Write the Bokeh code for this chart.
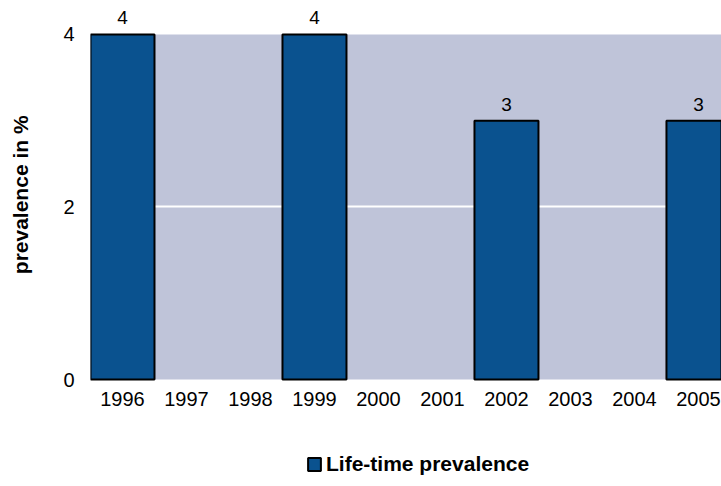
from bokeh.plotting import figure
from bokeh.models import (Range1d, FixedTicker, ColumnDataSource, LabelSet,
                          Legend, LegendItem, BoxAnnotation)
from bokeh.core.properties import value
from bokeh.embed import file_html
from bokeh.resources import INLINE

# ---- data ----
years = [1996, 1997, 1998, 1999, 2000, 2001, 2002, 2003, 2004, 2005]
prevalence = [4, None, None, 4, None, None, 3, None, None, 3]
y_ticks = [0, 2, 4]
series_name = "Life-time prevalence"
y_title = "prevalence in %"

bar_years = [y for y, v in zip(years, prevalence) if v is not None]
bar_vals = [v for v in prevalence if v is not None]
src = ColumnDataSource(dict(x=bar_years, top=bar_vals,
                            lbl=[str(v) for v in bar_vals]))
cat_src = ColumnDataSource(dict(x=years, y=[0] * len(years),
                                lbl=[str(y) for y in years]))

FONT = "Liberation Sans"
BAR = "#0A528F"
BG = "#BFC4D9"

p = figure(width=721, height=482, output_backend="svg", toolbar_location=None,
           x_range=Range1d(1995.5, 2005.36), y_range=Range1d(-1.194, 4.394),
           min_border_left=90, min_border_right=0, min_border_top=0,
           min_border_bottom=0)
p.outline_line_color = None
p.background_fill_color = "white"
p.border_fill_color = "white"

# plotting-area background (0..4 band)
p.add_layout(BoxAnnotation(bottom=0, top=max(y_ticks), fill_color=BG,
                           fill_alpha=1, line_color=None, level="image"))

bars = p.vbar(x="x", top="top", bottom=0, width=1.0, source=src,
              fill_color=BAR, line_color="black", line_width=2)

# value labels above bars
p.add_layout(LabelSet(x="x", y="top", text="lbl", source=src,
                      text_align="center", text_baseline="bottom",
                      y_offset=10, text_font=value(FONT), text_font_size="19px",
                      text_color="black"))

# category (year) labels under the plotting area
p.add_layout(LabelSet(x="x", y="y", text="lbl", source=cat_src,
                      text_align="center", text_baseline="top",
                      y_offset=-12, text_font=value(FONT), text_font_size="20px",
                      text_color="black"))

p.xaxis.visible = False

p.yaxis.ticker = FixedTicker(ticks=y_ticks)
p.yaxis.axis_line_color = None
p.yaxis.major_tick_line_color = None
p.yaxis.minor_tick_line_color = None
p.yaxis.major_label_standoff = 10
p.yaxis.major_label_text_font = FONT
p.yaxis.major_label_text_font_size = "20px"
p.yaxis.major_label_text_color = "black"
# leading no-break spaces lift the centred title alongside the 0..4 band
p.yaxis.axis_label = "\u00a0" * 16 + y_title
p.yaxis.axis_label_text_font = FONT
p.yaxis.axis_label_text_font_size = "21px"
p.yaxis.axis_label_text_font_style = "bold"
p.yaxis.axis_label_text_color = "black"
p.yaxis.axis_label_standoff = 28

p.xgrid.grid_line_color = None
p.ygrid.ticker = FixedTicker(ticks=[2])
p.ygrid.grid_line_color = "white"
p.ygrid.grid_line_width = 2

legend = Legend(items=[LegendItem(label=series_name, renderers=[bars])],
                location=(216, 6), orientation="horizontal",
                border_line_color=None, background_fill_alpha=0,
                label_text_font=FONT, label_text_font_size="21px",
                label_text_font_style="bold", label_text_color="black",
                glyph_width=16, glyph_height=16, padding=0, margin=0,
                label_standoff=4)
p.add_layout(legend)

open("out.html", "w").write(file_html(p, INLINE))
